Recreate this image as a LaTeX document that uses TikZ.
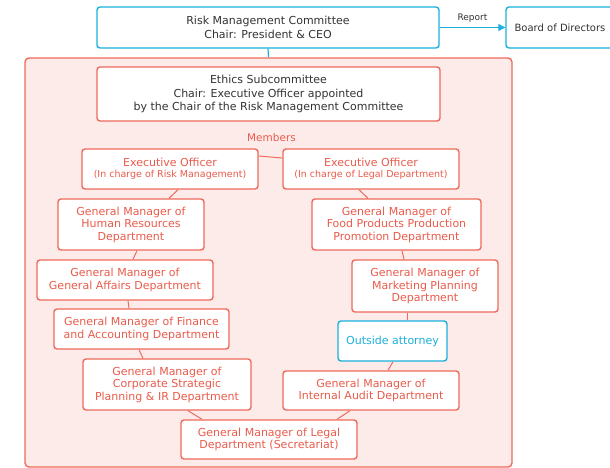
\documentclass[tikz,border=0pt]{standalone}
\usepackage{fontspec}
\setmainfont{DejaVu Sans}
\usetikzlibrary{arrows.meta}

\definecolor{riskred}{HTML}{EA5B4B}
\definecolor{riskline}{HTML}{EE6A5C}
\definecolor{riskpink}{HTML}{FDEBEA}
\definecolor{riskcyan}{HTML}{1BB0DD}
\definecolor{riskgray}{HTML}{333333}

\tikzset{
  topbox/.style={draw=riskcyan, line width=1.4pt, rounded corners=3pt, fill=white,
    text=riskgray, align=center, inner sep=0pt, font=\fontsize{11}{14}\selectfont},
  memberbox/.style={draw=riskline, line width=1.4pt, rounded corners=3pt, fill=white,
    text=riskred, align=center, inner sep=0pt, font=\fontsize{11}{12.5}\selectfont},
  lawyerbox/.style={memberbox, draw=riskcyan, text=riskcyan},
  link/.style={riskline, line width=1pt},
}

\begin{document}
\begin{tikzpicture}[x=1pt, y=-1pt]

    \useasboundingbox (0,0) rectangle (610,468);

    %Committee and Board
    \node[topbox, minimum width=342, minimum height=41] (rmc) at (268,27.5)
      {Risk Management Committee\\Chair: President \& CEO};
    \node[topbox, minimum width=110, minimum height=41, font=\fontsize{10}{12}\selectfont] (board) at (561,27.5) {};
    \node[text=riskgray, font=\fontsize{10}{12}\selectfont] (boardtext) at (560,28) {Board of Directors};
    \draw[riskcyan, line width=1.2pt, -{Triangle[length=7pt, width=7pt]}] (rmc.east) -- (board.west)
      node[midway, above=1pt, text=riskgray, font=\fontsize{9}{11}\selectfont] (report) {Report};

    %Ethics Subcommittee area
    \node[draw=riskline, line width=1.4pt, rounded corners=4pt, fill=riskpink,
      minimum width=487, minimum height=409] (area) at (268.5,262.5) {};
    \draw[riskcyan, line width=1.2pt] (rmc.south) -- (area.north);
    \node[memberbox, text=riskgray, font=\fontsize{11}{13.5}\selectfont,
      minimum width=343, minimum height=54] (ethics) at (268.5,94)
      {Ethics Subcommittee\\Chair: Executive Officer appointed\\by the Chair of the Risk Management Committee};
    \node[text=riskred, font=\fontsize{10.5}{12}\selectfont] (members) at (271.5,138) {Members};

    %Members, left side
    \node[memberbox, minimum width=176, minimum height=40, font=\fontsize{11}{11.5}\selectfont] (exrisk) at (170,169)
      {Executive Officer\\{\fontsize{9.5}{11.5}\selectfont (In charge of Risk Management)}};
    \node[memberbox, minimum width=146, minimum height=51] (hr) at (131,224.5)
      {General Manager of\\Human Resources\\Department};
    \node[memberbox, minimum width=176, minimum height=40] (ga) at (125,280)
      {General Manager of\\General Affairs Department};
    \node[memberbox, minimum width=175, minimum height=40] (fin) at (141.5,329)
      {General Manager of Finance\\and Accounting Department};
    \node[memberbox, minimum width=168, minimum height=51] (corp) at (167,384.5)
      {General Manager of\\Corporate Strategic\\Planning \& IR Department};
    \node[memberbox, minimum width=176, minimum height=39] (legsec) at (269,439.5)
      {General Manager of Legal\\Department (Secretariat)};

    %Members, right side
    \node[memberbox, minimum width=176, minimum height=40, font=\fontsize{11}{11.5}\selectfont] (exlegal) at (371,169)
      {Executive Officer\\{\fontsize{9.5}{11.5}\selectfont (In charge of Legal Department)}};
    \node[memberbox, minimum width=169, minimum height=51] (food) at (396.5,224.5)
      {General Manager of\\Food Products Production\\Promotion Department};
    \node[memberbox, minimum width=146, minimum height=52] (mkt) at (425,286)
      {General Manager of\\Marketing Planning\\Department};
    \node[lawyerbox, minimum width=109, minimum height=40] (attorney) at (392.5,341) {Outside attorney};
    \node[memberbox, minimum width=176, minimum height=39] (audit) at (371,390.5)
      {General Manager of\\Internal Audit Department};

    %Ring of links
    \draw[link] ([yshift=13pt]exrisk.east) -- ([yshift=11pt]exlegal.west);
    \draw[link] ([xshift=8pt]exrisk.south) -- ([xshift=38pt]hr.north);
    \draw[link] ([xshift=6pt]hr.south) -- ([xshift=8pt]ga.north);
    \draw[link] ([xshift=3pt]ga.south) -- ([xshift=-12.5pt]fin.north);
    \draw[link] ([xshift=-2.5pt]fin.south) -- ([xshift=-24pt]corp.north);
    \draw[link] ([xshift=21pt]corp.south) -- ([xshift=-67pt]legsec.north);
    \draw[link] ([xshift=68pt]legsec.north) -- ([xshift=-21pt]audit.south);
    \draw[link] ([xshift=17pt]audit.north) -- ([xshift=0.5pt]attorney.south);
    \draw[link] ([xshift=14.5pt]attorney.north) -- ([xshift=-18pt]mkt.south);
    \draw[link] ([xshift=-21pt]mkt.north) -- ([xshift=5.5pt]food.south);
    \draw[link] ([xshift=-28.5pt]food.north) -- ([xshift=-12pt]exlegal.south);

\end{tikzpicture}
\end{document}
